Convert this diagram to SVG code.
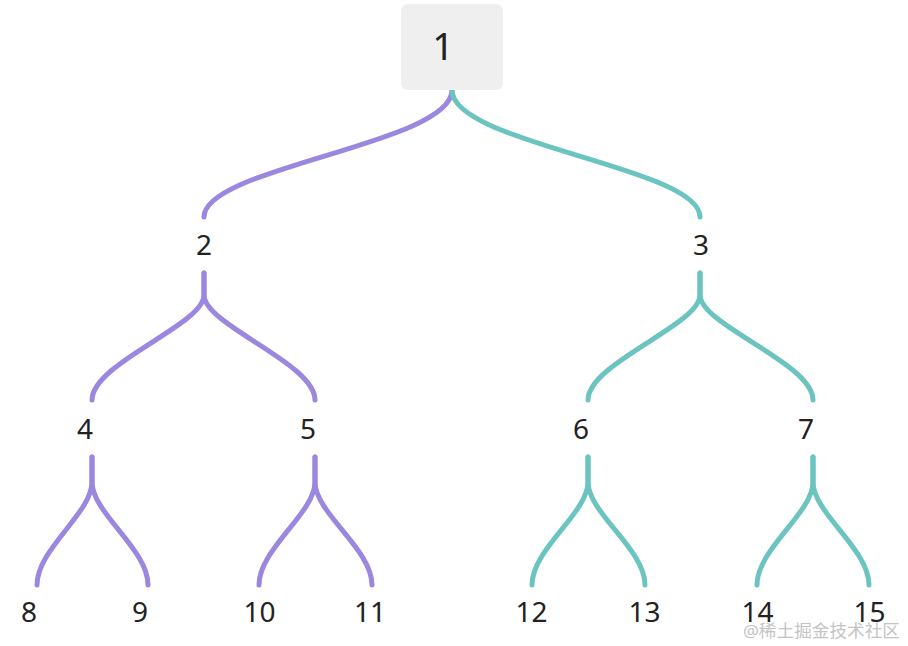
<svg xmlns="http://www.w3.org/2000/svg" width="908" height="646" viewBox="0 0 908 646">
<style>
.lbl{font-family:"Noto Sans","Open Sans","Noto Sans CJK SC",sans-serif;font-size:28px;fill:#222;text-anchor:middle}
.root{font-size:38px}
.e{fill:none;stroke-width:5;stroke-linecap:round;stroke-linejoin:round}
.p{stroke:#9b87e0}
.t{stroke:#6cc4c0}
.wm{font-family:"Noto Sans","Noto Sans CJK SC",sans-serif;font-size:17px;fill:#c4c4c4;text-anchor:end}
</style>
<rect width="908" height="646" fill="#ffffff"/>
<g id="connectors">
<path class="e p" d="M452,90 C452,144 204,167 204,217"/>
<path class="e t" d="M452,90 C452,144 700,167 700,217"/>
<path class="e p" d="M204,273 L204,295 C204,325 92,363 92,400"/>
<path class="e p" d="M204,273 L204,295 C204,325 315,363 315,400"/>
<path class="e t" d="M700,273 L700,295 C700,325 588,363 588,400"/>
<path class="e t" d="M700,273 L700,295 C700,325 813,363 813,400"/>
<path class="e p" d="M92,457 L92,482 C92,513 37,549 37,585"/>
<path class="e p" d="M92,457 L92,482 C92,513 148,549 148,585"/>
<path class="e p" d="M315,457 L315,482 C315,513 259,549 259,585"/>
<path class="e p" d="M315,457 L315,482 C315,513 372,549 372,585"/>
<path class="e t" d="M588,457 L588,482 C588,513 532,549 532,585"/>
<path class="e t" d="M588,457 L588,482 C588,513 645,549 645,585"/>
<path class="e t" d="M813,457 L813,482 C813,513 757,549 757,585"/>
<path class="e t" d="M813,457 L813,482 C813,513 869,549 869,585"/>
</g>
<g id="n1"><rect x="401" y="4" width="102" height="86" rx="7" fill="#efefef"/><text class="lbl root" x="443" y="59.5">1</text></g>
<g id="n2"><text class="lbl" x="204" y="254.5">2</text></g>
<g id="n3"><text class="lbl" x="701" y="254.5">3</text></g>
<g id="n4"><text class="lbl" x="85" y="439">4</text></g>
<g id="n5"><text class="lbl" x="308" y="439">5</text></g>
<g id="n6"><text class="lbl" x="581" y="439">6</text></g>
<g id="n7"><text class="lbl" x="806" y="439">7</text></g>
<g id="n8"><text class="lbl" x="29" y="621.5">8</text></g>
<g id="n9"><text class="lbl" x="140" y="621.5">9</text></g>
<g id="n10"><text class="lbl" x="259.5" y="621.5">10</text></g>
<g id="n11"><text class="lbl" x="370" y="621.5">11</text></g>
<g id="n12"><text class="lbl" x="531.5" y="621.5">12</text></g>
<g id="n13"><text class="lbl" x="644.5" y="621.5">13</text></g>
<g id="n14"><text class="lbl" x="757.5" y="621.5">14</text></g>
<g id="n15"><text class="lbl" x="869.5" y="621.5">15</text></g>
<text class="wm" x="900" y="637" textLength="157" lengthAdjust="spacingAndGlyphs">@稀土掘金技术社区</text>
</svg>
